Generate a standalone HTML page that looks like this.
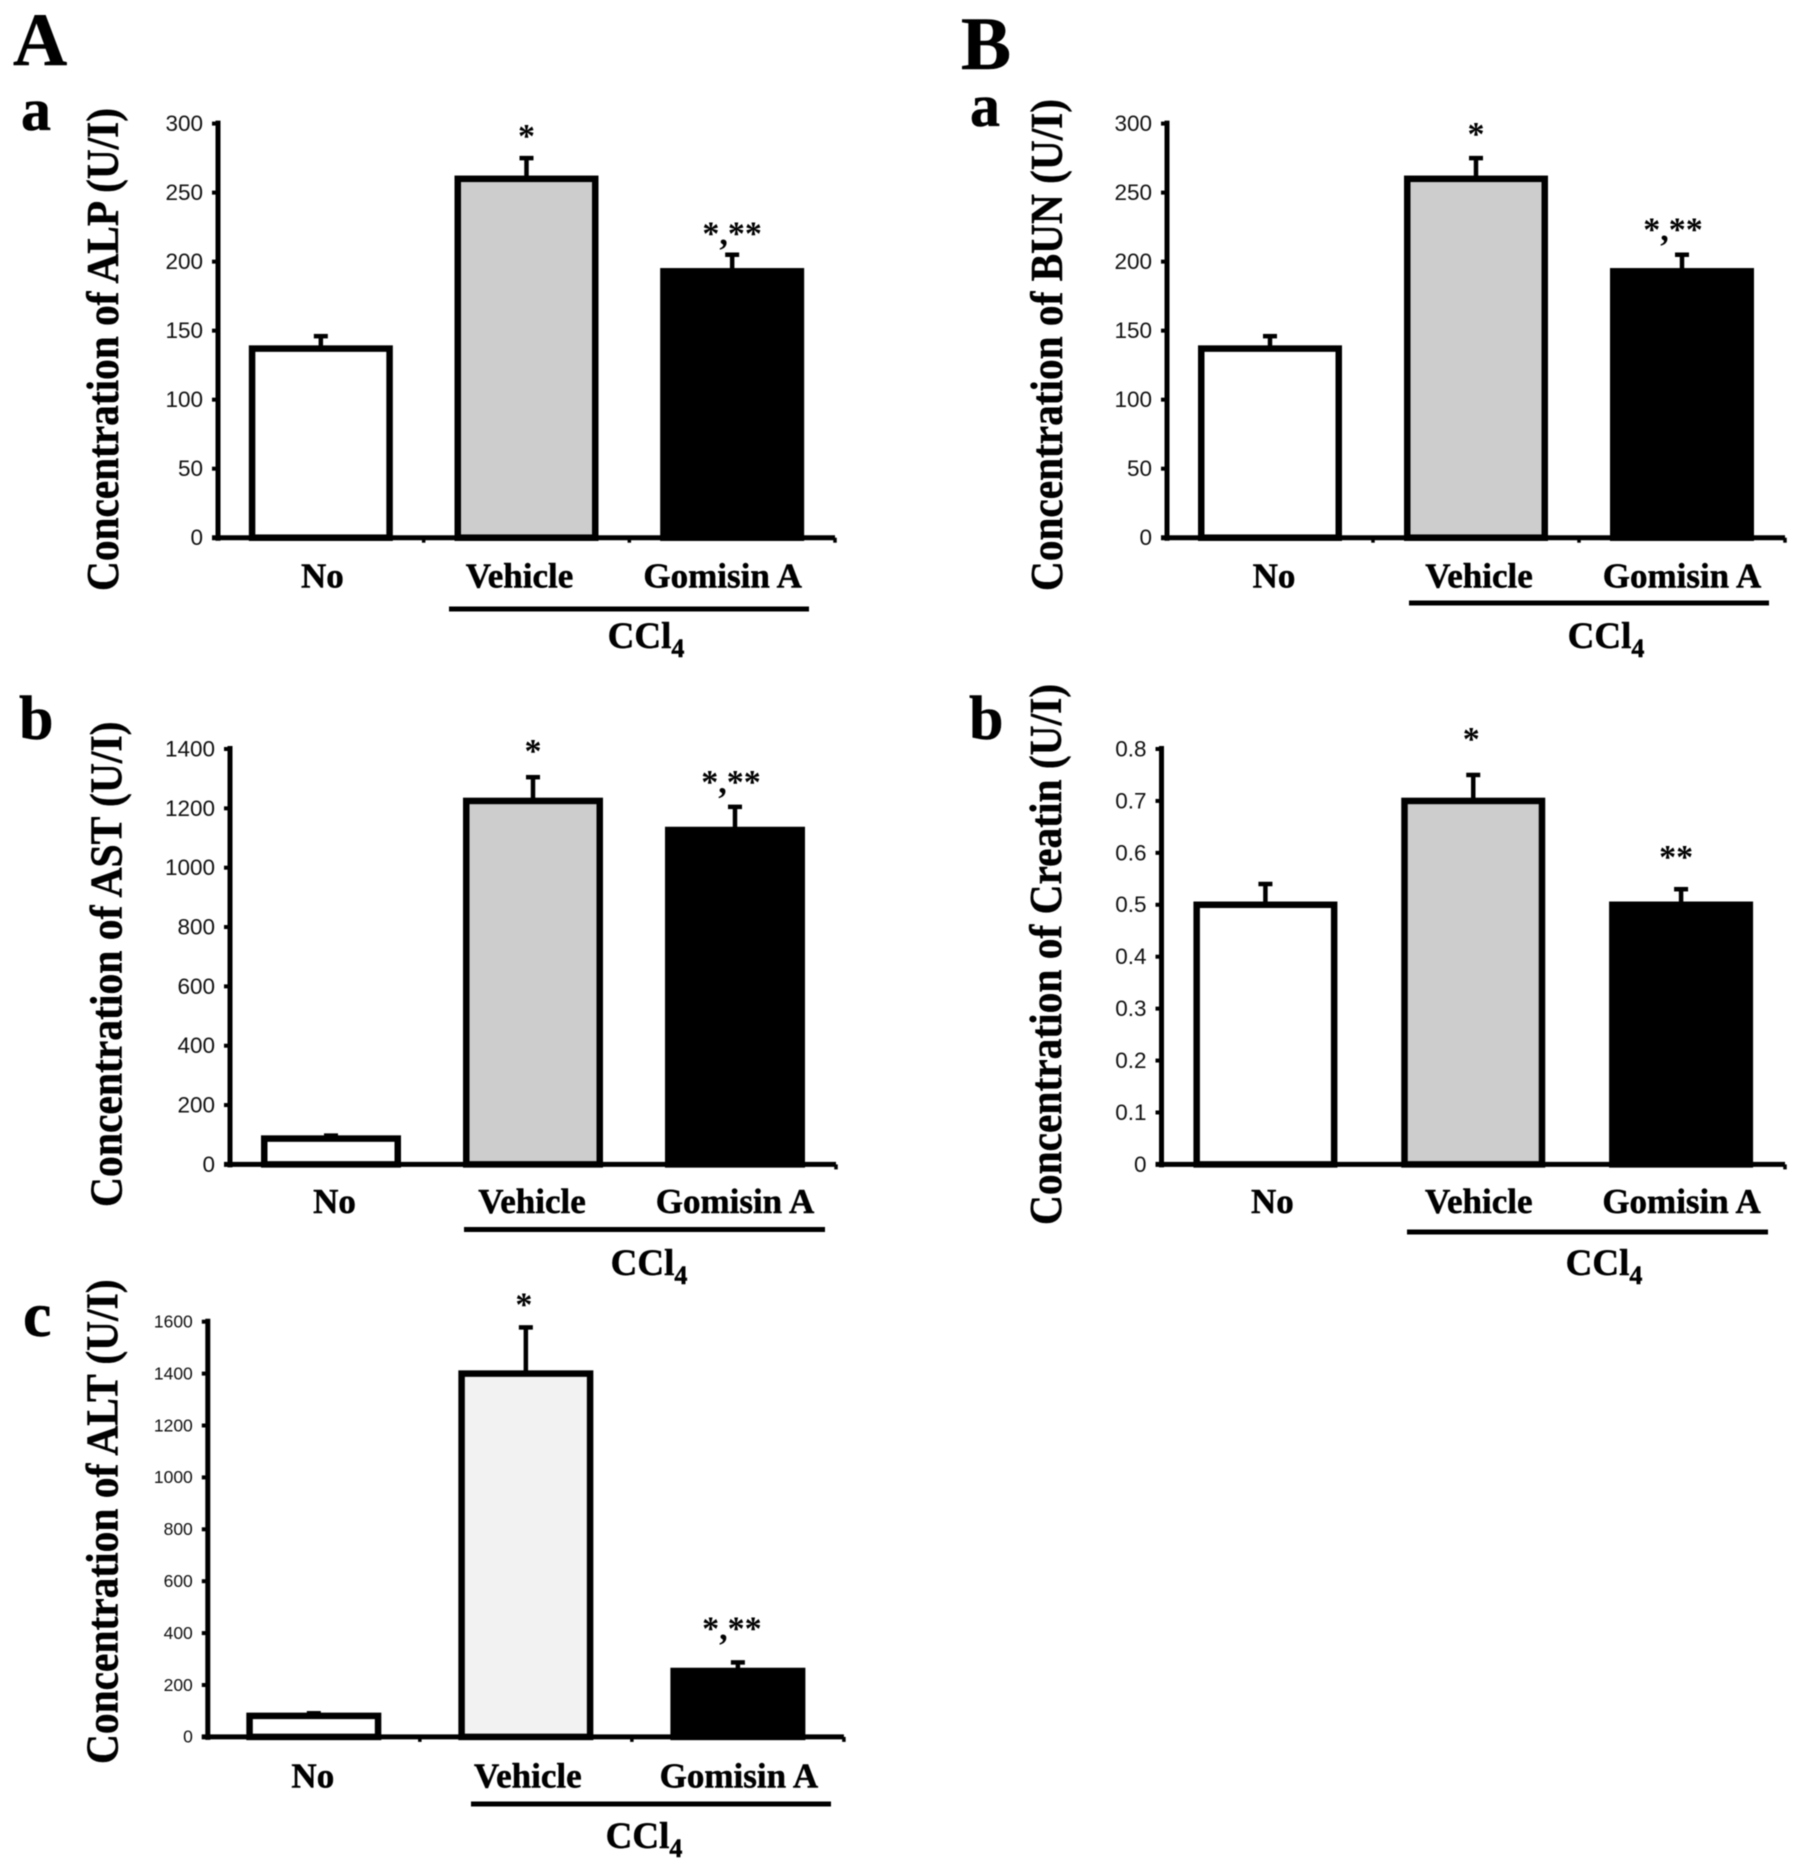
<!DOCTYPE html>
<html lang="en">
<head>
<meta charset="utf-8">
<title>Concentration of ALP, AST, ALT, BUN and Creatin</title>
<style>
html,body{margin:0;padding:0;background:#fff;}
#figure{display:block;width:1801px;height:1870px;filter:blur(0.5px);}
text{fill:#000;}
.serif{font-family:"Liberation Serif",serif;font-weight:700;}
.heavy{stroke:#000;stroke-width:0.5px;}
.tick{font-family:"Liberation Sans",sans-serif;fill:#111;}
</style>
</head>
<body>
<svg id="figure" xmlns="http://www.w3.org/2000/svg" width="1801" height="1870" viewBox="0 0 1801 1870">
  <rect x="0" y="0" width="1801" height="1870" fill="#fff"/>
  <text class="serif heavy" x="13" y="65" font-size="75">A</text>
  <text class="serif heavy" x="961" y="69" font-size="75">B</text>
  <text class="serif heavy" x="21" y="130" font-size="60">a</text>
  <text class="serif heavy" x="970" y="126" font-size="60">a</text>
  <text class="serif heavy" x="19" y="739" font-size="62">b</text>
  <text class="serif heavy" x="969" y="739" font-size="62">b</text>
  <text class="serif heavy" x="23" y="1336" font-size="64">c</text>
</svg>
<script>
// ---- Data ----
const categories = ['No', 'Vehicle', 'Gomisin A'];

const alpValues = [137, 260, 193];
const alpErrors = [9, 15, 12];
const alpTicks = ['0', '50', '100', '150', '200', '250', '300'];
const alpStars = ['', '*', '*,**'];

const bunValues = [137, 260, 193];
const bunErrors = [9, 15, 12];
const bunTicks = ['0', '50', '100', '150', '200', '250', '300'];
const bunStars = ['', '*', '*,**'];

const astValues = [87, 1225, 1127];
const astErrors = [10, 80, 78];
const astTicks = ['0', '200', '400', '600', '800', '1000', '1200', '1400'];
const astStars = ['', '*', '*,**'];

const creatinValues = [0.5, 0.7, 0.5];
const creatinErrors = [0.04, 0.05, 0.03];
const creatinTicks = ['0', '0.1', '0.2', '0.3', '0.4', '0.5', '0.6', '0.7', '0.8'];
const creatinStars = ['', '*', '**'];

const altValues = [81, 1400, 254];
const altErrors = [10, 178, 33];
const altTicks = ['0', '200', '400', '600', '800', '1000', '1200', '1400', '1600'];
const altStars = ['', '*', '*,**'];

const NS = 'http://www.w3.org/2000/svg';
const svg = document.getElementById('figure');

function make(tag, parent, attrs) {
  const el = document.createElementNS(NS, tag);
  for (const k in attrs) el.setAttribute(k, attrs[k]);
  parent.appendChild(el);
  return el;
}

function drawPanel(name, title, values, errors, ticks, stars, fills, L) {
  const g = make('g', svg, {});
  
  

  const yMax = parseFloat(ticks[ticks.length - 1]);
  const yScale = v => L.base - (v / yMax) * (L.base - L.top);
  const band = (L.right - L.left) / categories.length;
  const xScale = i => L.left + (i + 0.5) * band;

  // bars and error bars
  values.forEach((v, i) => {
    const cx = xScale(i);
    const yTop = yScale(v + errors[i]);
    const stem = make('line', g, {x1: cx, x2: cx, y1: yScale(v), y2: yTop, stroke: '#000', 'stroke-width': 4.5});
    
    
    const cap = make('line', g, {x1: cx - 7, x2: cx + 7, y1: yTop, y2: yTop, stroke: '#000', 'stroke-width': 4.5});
    
    
    const bw = L.barWidth - 6.5;
    const bar = make('rect', g, {x: cx - bw / 2, y: yScale(v), width: bw, height: L.base - yScale(v), fill: fills[i], stroke: '#000', 'stroke-width': 6.5});
    
    
    if (stars[i]) {
      const star = make('text', g, {x: cx + L.starDx[i], y: yTop - L.starGap[i] + 12, 'font-size': 34, 'text-anchor': 'middle', class: 'serif'});
      star.textContent = stars[i];
      
      
    }
    const cat = make('text', g, {x: cx + L.labelDx[i], y: L.labelY, 'font-size': 35, 'text-anchor': 'middle', class: 'serif heavy'});
    cat.textContent = categories[i];
    
    
  });

  // y axis
  const yAxis = make('line', g, {x1: L.left, x2: L.left, y1: L.top - 3, y2: L.base + 3, stroke: '#000', 'stroke-width': 5});
  
  
  ticks.forEach(t => {
    const y = yScale(parseFloat(t));
    const mark = make('line', g, {x1: L.left - 6, x2: L.left, y1: y, y2: y, stroke: '#000', 'stroke-width': 4});
    
    
    const lab = make('text', g, {x: L.left - 15, y: y + L.tickSize * 0.33, 'font-size': L.tickSize, 'text-anchor': 'end', class: 'tick'});
    lab.textContent = t;
    
    
  });

  // x axis
  const xAxis = make('line', g, {x1: L.left - 6, x2: L.right, y1: L.base, y2: L.base, stroke: '#000', 'stroke-width': 5});
  
  
  for (let i = 1; i <= categories.length; i++) {
    if (!L.xTicks && i < categories.length) continue;
    const xt = L.left + i * band;
    const nub = make('line', g, {x1: xt, x2: xt, y1: L.base, y2: L.base + 5, stroke: '#000', 'stroke-width': 3.5});
    
    
  }

  // y-axis title
  const midY = (L.titleTop + L.titleBottom) / 2;
  const ttl = make('text', g, {
    x: L.titleX, y: midY, 'font-size': 45, 'text-anchor': 'middle', class: 'serif heavy',
    transform: 'rotate(-90 ' + L.titleX + ' ' + midY + ')',
    textLength: L.titleBottom - L.titleTop, lengthAdjust: 'spacingAndGlyphs'
  });
  ttl.textContent = title;
  
  

  // CCl4 group rule and label
  const rule = make('line', g, {x1: L.ruleX1, x2: L.ruleX2, y1: L.ruleY, y2: L.ruleY, stroke: '#000', 'stroke-width': 5});
  
  
  const ccl = make('text', g, {x: L.cclX, y: L.cclY, 'font-size': 37, 'text-anchor': 'middle', class: 'serif heavy'});
  
  
  const t1 = make('tspan', ccl, {});
  t1.textContent = 'CCl';
  const t2 = make('tspan', ccl, {'font-size': 26, dy: 9});
  t2.textContent = '4';
}

const grayFills = ['#ffffff', '#cdcdcd', '#000000'];
const lightFills = ['#ffffff', '#f2f2f2', '#000000'];

drawPanel('alp', 'Concentration of ALP (U/I)', alpValues, alpErrors, alpTicks, alpStars, grayFills, {
  left: 218, right: 835, top: 123.6, base: 537.7, barWidth: 144, tickSize: 22.5, xTicks: true,
  starGap: [0, 23, 22], starDx: [0, 0, 0], labelDx: [1.5, -7, -9.5], labelY: 587.5,
  titleX: 118, titleTop: 108, titleBottom: 591,
  ruleX1: 449, ruleX2: 809, ruleY: 609, cclX: 646, cclY: 648
});
drawPanel('bun', 'Concentration of BUN (U/I)', bunValues, bunErrors, bunTicks, bunStars, grayFills, {
  left: 1167, right: 1785, top: 123.6, base: 537.7, barWidth: 144, tickSize: 22.5, xTicks: true,
  starGap: [0, 25, 26], starDx: [0, 0, -9], labelDx: [4, 3, 0], labelY: 587.5,
  titleX: 1062, titleTop: 99, titleBottom: 591,
  ruleX1: 1409, ruleX2: 1769, ruleY: 603, cclX: 1606, cclY: 648
});
drawPanel('ast', 'Concentration of AST (U/I)', astValues, astErrors, astTicks, astStars, grayFills, {
  left: 230, right: 836, top: 749, base: 1164.4, barWidth: 140, tickSize: 22.5, xTicks: false,
  starGap: [0, 27, 26], starDx: [0, 0, -4], labelDx: [3.5, -1, 0], labelY: 1213,
  titleX: 121.5, titleTop: 721.5, titleBottom: 1207,
  ruleX1: 464, ruleX2: 825, ruleY: 1229.5, cclX: 649, cclY: 1275
});
drawPanel('creatin', 'Concentration of Creatin (U/I)', creatinValues, creatinErrors, creatinTicks, creatinStars, grayFills, {
  left: 1161.5, right: 1785, top: 749, base: 1164.4, barWidth: 144, tickSize: 22.5, xTicks: false,
  starGap: [0, 37, 33], starDx: [0, -2, -5], labelDx: [7, 5.5, 0.5], labelY: 1213,
  titleX: 1061, titleTop: 684, titleBottom: 1225,
  ruleX1: 1407, ruleX2: 1768, ruleY: 1232, cclX: 1604, cclY: 1275
});
drawPanel('alt', 'Concentration of ALT (U/I)', altValues, altErrors, altTicks, altStars, lightFills, {
  left: 207.8, right: 843.9, top: 1321.7, base: 1736.9, barWidth: 135, tickSize: 17.5, xTicks: true,
  starGap: [0, 24, 35], starDx: [0, -2, -6], labelDx: [-1, 2, 1], labelY: 1787.5,
  titleX: 117.5, titleTop: 1279.5, titleBottom: 1764,
  ruleX1: 471, ruleX2: 831, ruleY: 1804, cclX: 644, cclY: 1848
});
</script>
</body>
</html>
